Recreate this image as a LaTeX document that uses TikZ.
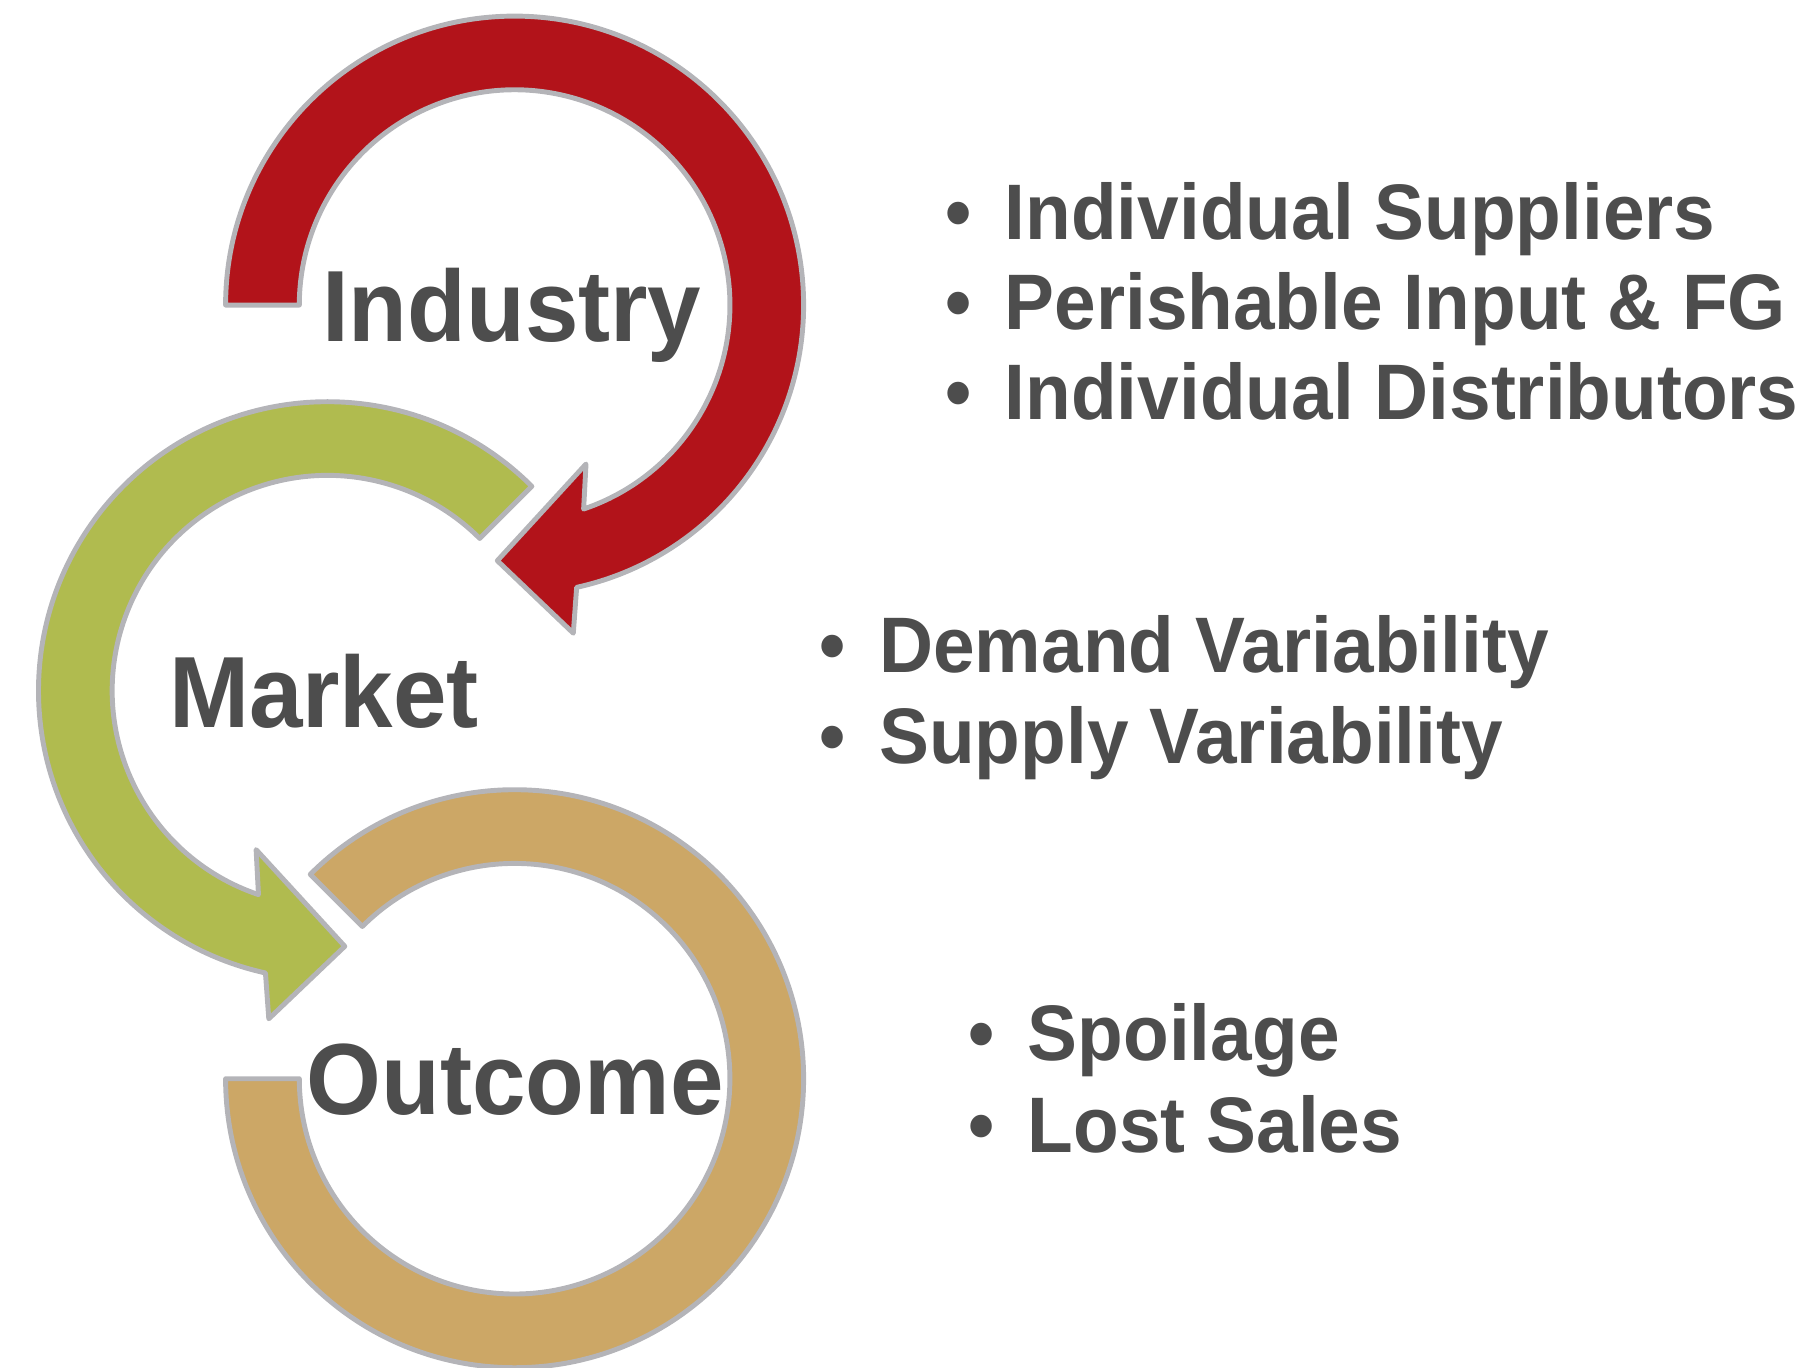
\documentclass[tikz,border=0pt]{standalone}
\usepackage{fontspec}
\setmainfont{Liberation Sans}
\definecolor{indred}{HTML}{B2131A}
\definecolor{mktgreen}{HTML}{B0BB4F}
\definecolor{outtan}{HTML}{CCA766}
\definecolor{rim}{HTML}{B4B4B8}
\definecolor{txtgray}{HTML}{4D4D4D}
\newcommand{\squeeze}[1]{\scalebox{0.95}[1]{#1}}
\begin{document}
\begin{tikzpicture}[
    band/.style={draw=rim, line width=1.4pt, line join=round},
    biglabel/.style={anchor=base, inner sep=0pt, text=txtgray, font=\bfseries\fontsize{28.8}{34}\selectfont},
    item/.style={anchor=base west, inner sep=0pt, text=txtgray, font=\bfseries\fontsize{22.4}{26}\selectfont}]
    \useasboundingbox (0,0) rectangle (18.05,13.67);

    % outcome ring
    \begin{scope}[shift={(5.146,2.883)}]
    \draw[band, fill=outtan] (180:2.89) arc[start angle=180, end angle=495, radius=2.89] -- (495:2.153) arc[start angle=495, end angle=180, radius=2.153] -- cycle;
    \end{scope}
    % market arrow (mirrored)
    \begin{scope}[shift={(3.275,6.763)}, xscale=-1]
    \draw[band, fill=mktgreen] (135:2.89) arc[start angle=135, end angle=-77.6, radius=2.89] -- (0.587,-3.281) -- (-0.173,-2.556) -- (0.714,-1.589) -- (-71.3:2.153) arc[start angle=-71.3, end angle=135, radius=2.153] -- cycle;
    \end{scope}
    % industry arrow
    \begin{scope}[shift={(5.146,10.619)}]
    \draw[band, fill=indred] (180:2.89) arc[start angle=180, end angle=-77.6, radius=2.89] -- (0.587,-3.281) -- (-0.173,-2.556) -- (0.714,-1.589) -- (-71.3:2.153) arc[start angle=-71.3, end angle=180, radius=2.153] -- cycle;
    \end{scope}

    \node[biglabel] (industry) at (5.117,10.257) {\squeeze{Industry}};
    \node[biglabel] (market) at (3.24,6.394) {\squeeze{Market}};
    \node[biglabel] (outcome) at (5.152,2.521) {\squeeze{Outcome}};

    \node[item] (sup) at (9.445,11.28) {\squeeze{•\hspace{10pt}Individual Suppliers}};
    \node[item] (per) at (9.445,10.372) {\squeeze{•\hspace{10pt}Perishable Input \& FG}};
    \node[item] (dis) at (9.445,9.474) {\squeeze{•\hspace{10pt}Individual Distributors}};

    \node[item] (dem) at (8.191,6.95) {\squeeze{•\hspace{10pt}Demand Variability}};
    \node[item] (sply) at (8.191,6.04) {\squeeze{•\hspace{10pt}Supply Variability}};

    \node[item] (spoil) at (9.676,3.07) {\squeeze{•\hspace{10pt}Spoilage}};
    \node[item] (lost) at (9.676,2.149) {\squeeze{•\hspace{10pt}Lost Sales}};
\end{tikzpicture}
\end{document}
